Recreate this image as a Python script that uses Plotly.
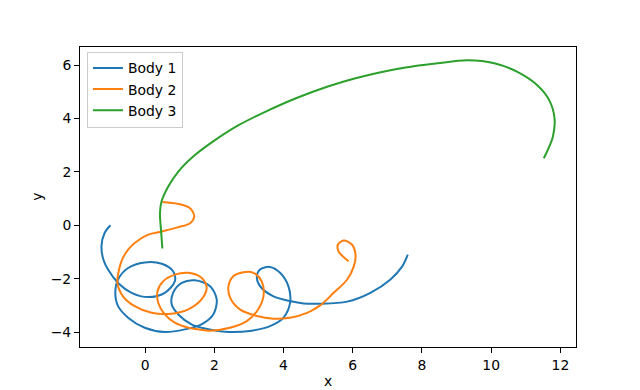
import plotly.graph_objects as go

body1_x = [-1.00, -1.17, -1.26, -1.20, -1.07, -0.78, -0.39, 0.09, 0.57, 0.86, 0.81, 0.48, -0.01, -0.49, -0.78,
           -0.86, -0.78, -0.49, -0.01, 0.57, 1.15, 1.63, 1.97, 2.07, 1.88, 1.44, 1.06, 0.81, 0.77, 0.96, 1.34,
           1.73, 2.12, 2.45, 3.03, 3.61, 4.00, 4.19, 4.14, 3.90, 3.61, 3.32, 3.23, 3.36, 3.71, 4.19, 4.58,
           5.06, 5.84, 6.51, 7.09, 7.43, 7.59]
body1_y = [0.00, -0.29, -0.79, -1.30, -1.66, -2.16, -2.53, -2.69, -2.53, -2.10, -1.72, -1.44, -1.39, -1.60, -2.03,
           -2.53, -3.03, -3.46, -3.84, -4.00, -3.90, -3.71, -3.34, -2.78, -2.28, -2.06, -2.16, -2.53, -2.97, -3.34, -3.71,
           -3.87, -3.96, -4.00, -3.96, -3.78, -3.46, -2.90, -2.28, -1.78, -1.56, -1.66, -1.97, -2.34, -2.66, -2.84, -2.93,
           -2.94, -2.86, -2.53, -2.03, -1.54, -1.10]

body2_x = [0.50, 0.96, 1.30, 1.42, 1.30, 0.96, 0.48, 0.09, -0.30, -0.49, -0.64, -0.73, -0.80, -0.64, -0.30,
           0.19, 0.77, 1.25, 1.63, 1.78, 1.63, 1.25, 0.86, 0.52, 0.36, 0.38, 0.57, 0.86, 1.25, 1.73, 1.88,
           2.45, 2.94, 3.23, 3.42, 3.37, 3.13, 2.84, 2.55, 2.41, 2.46, 2.74, 3.23, 3.71, 4.19, 4.68, 5.06,
           5.45, 5.84, 6.03, 6.08, 5.98, 5.74, 5.57, 5.59, 5.88]
body2_y = [0.87, 0.80, 0.64, 0.33, 0.08, -0.07, -0.23, -0.35, -0.66, -0.91, -1.22, -1.54, -2.16, -2.66, -3.03,
           -3.28, -3.31, -3.15, -2.78, -2.34, -1.97, -1.78, -1.85, -2.10, -2.47, -2.90, -3.34, -3.65, -3.84, -3.93, -3.95,
           -3.84, -3.59, -3.22, -2.66, -2.10, -1.78, -1.76, -1.91, -2.28, -2.72, -3.15, -3.40, -3.50, -3.46, -3.28, -3.00,
           -2.53, -2.03, -1.54, -1.10, -0.73, -0.57, -0.73, -0.98, -1.35]

body3_x = [0.50, 0.46, 0.43, 0.475, 0.67, 0.96, 1.44, 2.02, 2.70, 3.47, 4.34, 5.30, 6.08, 6.55, 7.48, 8.45,
           9.32, 10.09, 10.77, 11.34, 11.68, 11.83, 11.78, 11.52]
body3_y = [-0.87, -0.17, 0.46, 0.89, 1.45, 2.01, 2.63, 3.19, 3.75, 4.25, 4.75, 5.21, 5.51, 5.66, 5.90, 6.07,
           6.18, 6.07, 5.74, 5.24, 4.68, 4.00, 3.31, 2.51]

names = ["Body 1", "Body 2", "Body 3"]
colors = ["#1f77b4", "#ff7f0e", "#2ca02c"]
series = [(body1_x, body1_y), (body2_x, body2_y), (body3_x, body3_y)]

FONT = "DejaVu Sans"
fig = go.Figure()
for (xs, ys), n, c in zip(series, names, colors):
    fig.add_trace(go.Scatter(x=xs, y=ys, mode="lines", name=n,
                             line=dict(color=c, width=2, shape="spline", smoothing=0.9)))

axis_common = dict(showgrid=False, zeroline=False, showline=True, mirror=True, automargin=False,
                   linecolor="black", linewidth=1, ticks="outside", ticklen=5, tickwidth=1,
                   tickcolor="black", tickfont=dict(family=FONT, size=13.9, color="black"))

fig.update_layout(
    width=632, height=382,
    margin=dict(l=72, r=64, t=39, b=43),
    paper_bgcolor="white", plot_bgcolor="white",
    font=dict(family=FONT, size=13.9, color="black"),
    showlegend=True,
    legend=dict(x=0.014, y=0.985, xanchor="left", yanchor="top",
                bgcolor="rgba(255,255,255,0.8)", bordercolor="#cccccc", borderwidth=1,
                font=dict(family=FONT, size=13.9, color="black"), tracegroupgap=0),
    xaxis=dict(range=[-1.88, 12.45], tickvals=[0, 2, 4, 6, 8, 10, 12], **axis_common),
    yaxis=dict(range=[-4.56, 6.68], tickvals=[-4, -2, 0, 2, 4, 6], **axis_common),
    annotations=[
        dict(text="x", xref="paper", yref="paper", x=0.5, y=-0.113, xanchor="center", yanchor="middle",
             showarrow=False, font=dict(family=FONT, size=13.9, color="black")),
        dict(text="y", xref="paper", yref="paper", x=-0.087, y=0.5, xanchor="center", yanchor="middle",
             textangle=-90, showarrow=False, font=dict(family=FONT, size=13.9, color="black")),
    ],
)

fig.write_html("out.html")
